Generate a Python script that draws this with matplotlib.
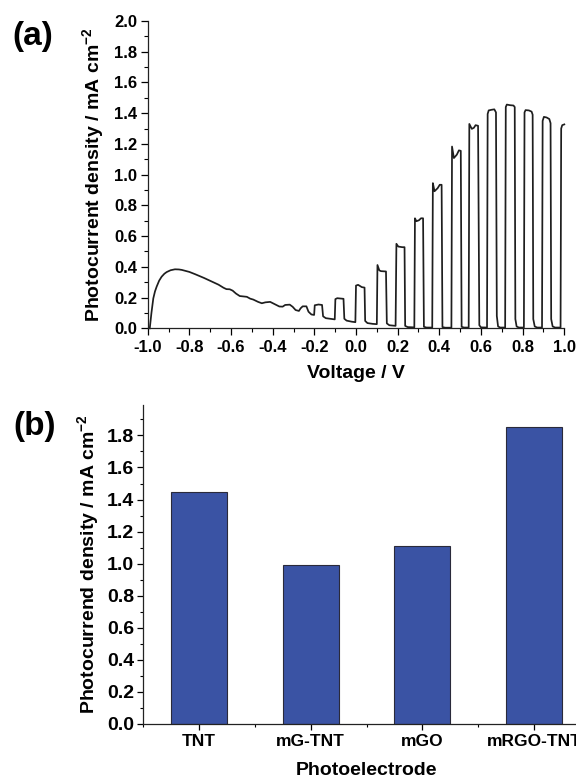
import matplotlib
matplotlib.use("Agg")
import matplotlib.pyplot as plt
from matplotlib.ticker import MultipleLocator

plt.rcParams['font.family'] = ['Liberation Sans', 'DejaVu Sans']
plt.rcParams['font.weight'] = 'bold'
plt.rcParams['axes.unicode_minus'] = False
plt.rcParams['mathtext.fontset'] = 'custom'
plt.rcParams['mathtext.rm'] = 'Liberation Sans:bold'
plt.rcParams['mathtext.bf'] = 'Liberation Sans:bold'
plt.rcParams['mathtext.default'] = 'rm'

# --- (a) chopped-light scan: vertices ---
voltage = [
    -0.990, -0.982, -0.973, -0.965, -0.957, -0.945, -0.933, -0.920, -0.909, -0.890,
    -0.869, -0.850, -0.836, -0.800, -0.772, -0.730, -0.692, -0.660, -0.636, -0.622,
    -0.606, -0.592, -0.576, -0.558, -0.540, -0.524, -0.508, -0.493, -0.470, -0.452,
    -0.435, -0.412, -0.392, -0.368, -0.352, -0.340, -0.318, -0.304, -0.290, -0.274,
    -0.266, -0.256, -0.238, -0.228, -0.214, -0.201, -0.198, -0.180, -0.163, -0.158,
    -0.145, -0.120, -0.102, -0.099, -0.090, -0.060, -0.056, -0.045, -0.020, -0.003,
    0.000, 0.010, 0.028, 0.041, 0.044, 0.055, 0.080, 0.100,
    0.103, 0.112, 0.120, 0.144, 0.148, 0.160, 0.190,
    0.194, 0.203, 0.222, 0.233, 0.236, 0.248, 0.280,
    0.283, 0.290, 0.302, 0.312, 0.322, 0.326, 0.338, 0.366,
    0.369, 0.377, 0.392, 0.402, 0.411, 0.415, 0.428, 0.458,
    0.461, 0.470, 0.484, 0.494, 0.503, 0.507, 0.518, 0.541,
    0.544, 0.556, 0.566, 0.574, 0.586, 0.592, 0.600, 0.629,
    0.632, 0.637, 0.650, 0.664, 0.672, 0.676, 0.682, 0.692, 0.716,
    0.719, 0.724, 0.740, 0.756, 0.762, 0.765, 0.771, 0.782, 0.806,
    0.809, 0.814, 0.830, 0.843, 0.848, 0.851, 0.858, 0.870, 0.893,
    0.896, 0.902, 0.915, 0.928, 0.934, 0.937, 0.944, 0.956, 0.982,
    0.985, 0.990, 1.000,
]
current = [
    0.000, 0.100, 0.195, 0.240, 0.271, 0.310, 0.336, 0.355, 0.366, 0.378,
    0.384, 0.383, 0.380, 0.367, 0.352, 0.328, 0.304, 0.284, 0.264, 0.255,
    0.254, 0.245, 0.226, 0.210, 0.207, 0.205, 0.193, 0.187, 0.172, 0.163,
    0.169, 0.172, 0.158, 0.142, 0.141, 0.152, 0.154, 0.140, 0.119, 0.113,
    0.130, 0.143, 0.143, 0.108, 0.090, 0.087, 0.150, 0.155, 0.152, 0.078,
    0.066, 0.061, 0.058, 0.190, 0.196, 0.192, 0.062, 0.050, 0.043, 0.040,
    0.278, 0.283, 0.268, 0.265, 0.048, 0.034, 0.029, 0.027,
    0.412, 0.377, 0.372, 0.370, 0.032, 0.020, 0.016,
    0.550, 0.532, 0.528, 0.528, 0.016, 0.008, 0.006,
    0.716, 0.697, 0.703, 0.716, 0.716, 0.010, 0.005, 0.005,
    0.945, 0.892, 0.912, 0.934, 0.934, 0.008, 0.004, 0.004,
    1.183, 1.108, 1.130, 1.158, 1.155, 0.010, 0.005, 0.005,
    1.330, 1.298, 1.305, 1.322, 1.318, 0.020, 0.006, 0.005,
    1.395, 1.418, 1.422, 1.425, 1.405, 0.080, 0.012, 0.005, 0.005,
    1.440, 1.456, 1.452, 1.450, 1.440, 0.060, 0.012, 0.005, 0.005,
    1.405, 1.420, 1.418, 1.410, 1.390, 0.060, 0.012, 0.005, 0.005,
    1.350, 1.376, 1.372, 1.362, 1.335, 0.060, 0.012, 0.005, 0.005,
    1.300, 1.322, 1.327,
]

# --- (b) photocurrent per electrode ---
electrodes = ['TNT', 'mG-TNT', 'mGO', 'mRGO-TNT']
density = [1.45, 0.99, 1.11, 1.85]

fig = plt.figure(figsize=(5.76, 7.83), dpi=100)

# panel (a)
ax1 = fig.add_axes([0.2564, 0.5807, 0.7233, 0.3925])
ax1.plot(voltage, current, color='#1e1e1e', lw=1.25, clip_on=False)
ax1.set_xlim(-1.0, 1.0)
ax1.set_ylim(0.0, 2.0)
ax1.xaxis.set_major_locator(MultipleLocator(0.2))
ax1.xaxis.set_minor_locator(MultipleLocator(0.1))
ax1.yaxis.set_major_locator(MultipleLocator(0.2))
ax1.yaxis.set_minor_locator(MultipleLocator(0.1))
ax1.xaxis.set_major_formatter(lambda v, p: f"{v:.1f}" if abs(v) > 1e-9 else "0.0")
ax1.yaxis.set_major_formatter(lambda v, p: f"{v:.1f}")
ax1.set_xlabel('Voltage / V', fontsize=14, fontweight='bold', labelpad=7)
ax1.set_ylabel('Photocurrent density / mA cm$^{-2}$', fontsize=14, fontweight='bold', labelpad=6)
ax1.text(-0.325, 0.948, '(a)', transform=ax1.transAxes, fontsize=24, fontweight='bold',
         ha='left', va='center')

# panel (b)
ax2 = fig.add_axes([0.2488, 0.0754, 0.775, 0.4074])
pos = list(range(1, len(electrodes) + 1))
ax2.bar(pos, density, width=0.5, color='#3a53a4', edgecolor='#2a2a3a', linewidth=0.8)
ax2.set_xlim(0.5, 4.5)
ax2.set_ylim(0.0, 1.99)
ax2.set_xticks(pos)
ax2.set_xticklabels(electrodes)
ax2.set_xticks([0.5, 1.5, 2.5, 3.5], minor=True)
ax2.yaxis.set_major_locator(MultipleLocator(0.2))
ax2.yaxis.set_minor_locator(MultipleLocator(0.1))
ax2.yaxis.set_major_formatter(lambda v, p: f"{v:.1f}")
ax2.set_xlabel('Photoelectrode', fontsize=14, fontweight='bold', labelpad=9)
ax2.set_ylabel('Photocurrend density / mA cm$^{-2}$', fontsize=14, fontweight='bold', labelpad=4)
ax2.text(-0.292, 0.934, '(b)', transform=ax2.transAxes, fontsize=24, fontweight='bold',
         ha='left', va='center')

for ax, fx, fy, tl in ((ax1, 12, 12, 5), (ax2, 12.5, 14, 4)):
    for s in ('top', 'right'):
        ax.spines[s].set_visible(False)
    for s in ('left', 'bottom'):
        ax.spines[s].set_linewidth(0.9)
        ax.spines[s].set_color('#222222')
    ax.tick_params(which='major', direction='out', length=tl, width=0.9, pad=2.5)
    ax.tick_params(which='minor', direction='out', length=tl * 0.6, width=0.8)
    ax.tick_params(axis='x', labelsize=fx, pad=3.5)
    ax.tick_params(axis='y', labelsize=fy)
    for lab in ax.get_xticklabels() + ax.get_yticklabels():
        lab.set_fontweight('bold')

fig.savefig('out.png', dpi=100)
